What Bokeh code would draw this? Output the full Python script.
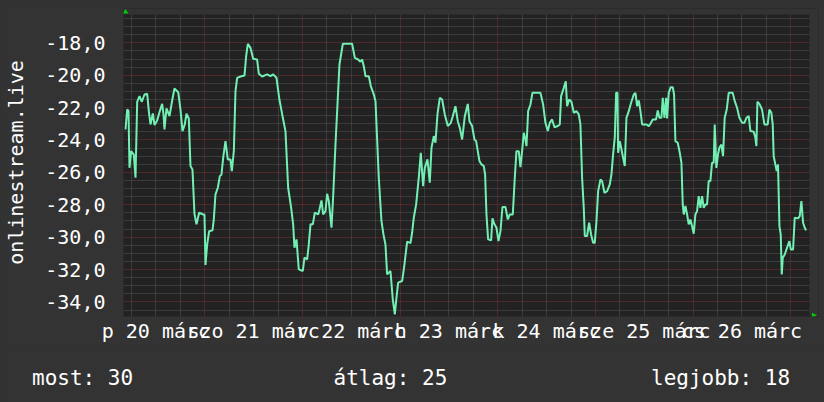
from bokeh.plotting import figure
from bokeh.layouts import column
from bokeh.models import (FixedTicker, CustomJSTickFormatter, Grid, Label,
                          PolyAnnotation, Range1d)
from bokeh.embed import file_html
from bokeh.resources import INLINE

# hours since 20 márc 00:00
hours = [4.52, 4.93, 5.26, 5.50, 5.91, 6.56, 6.98, 7.39, 7.96, 8.53, 9.19, 9.85, 10.25, 10.66,
         11.24, 11.65, 12.30, 12.95, 13.53, 13.86, 14.10, 14.59, 15.33, 15.99, 16.56, 17.47,
         18.03, 18.53, 19.09, 19.51, 20.08, 20.49, 20.98, 21.47, 21.97, 22.62, 23.61, 23.93,
         24.18, 24.59, 25.08, 25.90, 26.22, 26.63, 27.21, 27.70, 28.11, 28.52, 29.09, 29.66,
         30.32, 30.65, 31.14, 31.55, 31.96, 32.78, 33.76, 34.17, 34.58, 35.23, 35.89, 36.87,
         37.28, 38.10, 39.33, 40.15, 40.80, 41.62, 42.28, 43.18, 43.83, 44.49, 45.23, 45.72,
         46.04, 46.54, 47.10, 48.09, 48.50, 49.16, 49.56, 49.98, 50.55, 51.04, 51.86, 52.19,
         52.68, 53.09, 53.66, 54.07, 54.48, 55.14, 55.55, 56.12, 56.61, 57.10, 57.92, 60.21,
         60.87, 61.69, 62.26, 62.67, 63.08, 63.49, 64.31, 64.80, 65.54, 65.95, 66.76, 67.42,
         67.91, 68.40, 68.81, 69.63, 70.20, 70.70, 71.02, 71.52, 72.50, 73.07, 73.73, 74.55,
         74.95, 75.36, 75.94, 76.59, 77.08, 77.66, 78.07, 78.72, 79.29, 79.71, 80.28, 80.69,
         81.18, 81.75, 82.33, 82.98, 83.72, 84.46, 84.95, 85.60, 86.17, 86.67, 87.24, 87.90,
         88.63, 89.04, 89.70, 90.27, 90.68, 91.09, 91.50, 91.99, 92.56, 92.89, 93.22, 93.63,
         94.37, 94.69, 95.18, 95.68, 96.17, 96.66, 97.15, 97.89, 98.46, 98.95, 99.69, 100.18,
         100.59, 101.16, 101.57, 101.98, 102.39, 102.80, 103.05, 103.46, 104.03, 104.52,
         106.49, 107.14, 107.71, 108.29, 108.78, 109.35, 109.93, 110.74, 111.24, 111.56,
         112.22, 112.71, 113.04, 113.53, 114.10, 114.68, 115.33, 115.90, 116.31, 116.72,
         117.13, 117.38, 117.95, 118.44, 118.93, 119.42, 119.83, 120.25, 120.66, 121.23,
         121.64, 122.21, 122.87, 123.52, 123.93, 124.34, 124.75, 125.08, 125.41, 125.57,
         125.98, 126.31, 126.80, 127.21, 127.62, 128.19, 128.76, 129.42, 129.83, 130.24,
         130.65, 131.06, 131.47, 132.53, 133.10, 133.51, 134.08, 134.90, 135.31, 135.72,
         136.21, 136.54, 136.95, 137.36, 137.60, 138.01, 138.50, 139.00, 139.32, 139.65,
         140.22, 140.72, 141.13, 141.45, 141.70, 142.11, 142.52, 142.92, 143.33, 143.74,
         144.15, 144.56, 144.97, 145.38, 145.79, 146.20, 146.61, 147.02, 147.43, 147.83,
         148.24, 148.65, 149.06, 149.31, 149.71, 150.12, 150.45, 150.94, 151.35, 151.76,
         152.26, 152.75, 153.73, 154.23, 154.80, 155.37, 156.03, 156.60, 157.09, 157.66,
         158.08, 158.89, 159.30, 159.55, 159.80, 160.29, 160.94, 161.52, 162.33, 162.74,
         163.23, 163.56, 163.80, 164.21, 164.54, 164.86, 165.21, 165.53, 165.78, 166.03,
         166.52, 167.09, 167.66, 167.99, 168.56, 168.97, 169.79, 170.20, 170.61, 171.02,
         171.43, 171.76]

temps = [-23.35, -22.12, -22.20, -25.72, -24.69, -24.90, -26.33, -21.64, -21.29, -21.64, -21.19,
         -21.15, -22.22, -23.04, -22.36, -23.08, -22.79, -22.22, -21.77, -22.42, -23.35, -22.05,
         -22.53, -21.56, -20.82, -21.05, -22.12, -23.45, -23.04, -22.38, -22.67, -25.61, -25.82,
         -28.56, -29.21, -28.49, -28.60, -28.60, -31.72, -30.45, -29.63, -29.58, -28.91, -27.36,
         -26.95, -26.23, -26.13, -25.10, -24.07, -25.20, -25.20, -25.92, -24.69, -20.98, -20.16,
         -20.08, -20.02, -18.82, -18.06, -18.31, -18.99, -19.03, -19.91, -20.08, -19.95, -20.06,
         -19.95, -20.16, -21.40, -22.63, -23.45, -26.95, -28.19, -29.21, -30.65, -30.14, -31.99,
         -32.09, -31.27, -31.37, -30.45, -29.21, -29.21, -28.49, -28.60, -28.29, -27.73, -28.60,
         -28.39, -27.32, -27.77, -29.42, -27.47, -24.28, -21.81, -19.34, -18.06, -18.06, -18.93,
         -19.03, -19.17, -19.03, -19.44, -20.06, -20.06, -20.67, -21.19, -21.60, -26.33, -29.01,
         -29.83, -30.45, -32.30, -32.09, -33.84, -34.77, -33.95, -32.81, -32.71, -31.68, -30.28,
         -30.37, -29.73, -28.80, -27.98, -26.33, -24.79, -26.85, -25.72, -25.20, -26.64, -24.48,
         -23.76, -24.17, -22.42, -21.40, -21.50, -22.42, -23.14, -22.94, -22.53, -21.91, -22.84,
         -23.25, -23.97, -22.53, -21.77, -22.84, -23.14, -23.97, -24.07, -24.69, -25.30, -25.51,
         -25.61, -26.13, -28.60, -30.14, -30.20, -28.84, -29.21, -29.42, -30.24, -29.63, -28.14,
         -28.14, -28.91, -28.60, -28.60, -26.33, -24.69, -24.69, -25.67, -24.69, -23.56, -23.97,
         -24.38, -22.22, -21.81, -21.09, -21.09, -21.81, -22.94, -23.45, -22.94, -22.73, -23.21,
         -23.14, -23.04, -21.29, -20.78, -20.37, -21.91, -21.50, -21.64, -22.32, -22.22, -22.42,
         -23.04, -26.33, -28.19, -29.93, -29.93, -29.11, -29.83, -30.35, -30.35, -29.01, -27.16,
         -26.44, -26.54, -27.26, -27.16, -26.74, -26.13, -24.89, -23.86, -21.09, -21.09, -24.79,
         -24.07, -24.48, -25.10, -25.61, -22.63, -22.22, -21.70, -21.19, -21.09, -21.91, -21.56,
         -22.22, -23.04, -23.04, -23.14, -23.00, -22.73, -22.73, -22.18, -22.63, -22.63, -21.40,
         -22.63, -21.40, -22.67, -21.09, -20.74, -20.74, -21.19, -24.07, -24.17, -24.79, -25.41,
         -27.98, -28.60, -28.08, -28.60, -29.21, -28.91, -29.32, -29.79, -28.60, -28.39, -27.47,
         -28.19, -27.47, -28.19, -27.98, -27.98, -26.54, -26.54, -25.41, -25.41, -23.04, -25.72,
         -24.89, -24.48, -24.28, -25.00, -22.63, -22.12, -21.09, -21.09, -21.60, -22.01, -22.63,
         -22.94, -22.94, -22.63, -22.53, -23.45, -23.49, -23.86, -24.38, -21.64, -21.77, -22.12,
         -23.04, -23.04, -22.12, -22.32, -23.04, -25.00, -25.51, -25.92, -25.51, -29.32, -29.83,
         -32.30, -31.27, -31.07, -30.65, -30.24, -30.76, -30.76, -28.80, -28.84, -28.70, -27.77,
         -29.11, -29.42, -29.58]

day_label_hours = [12, 36, 60, 84, 108, 132, 156]
day_labels = ["p 20 márc", "szo 21 márc", "v 22 márc", "h 23 márc",
              "k 24 márc", "sze 25 márc", "cs 26 márc"]
y_ticks = [-34, -32, -30, -28, -26, -24, -22, -20, -18]
y_title = "onlinestream.live"
legend_texts = ["most: 30", "átlag: 25", "legjobb: 18"]

# extent of the graph area (data units)
X0, X1 = 4.03, 172.58
Y0, Y1 = -34.9, -16.25
# frame extends slightly beyond the graph area to hold the axis arrows
XF1, YF1 = 174.81, -15.88

FONT = "DejaVu Sans Mono"
BACK = "#333333"
CANVAS = "#222222"
GRID_C = "#555555"
MGRID_C = "#7a3030"
LINE_C = "#72F0B4"
ARROW_C = "#00cc00"

p = figure(width=824, height=350, output_backend="svg", toolbar_location=None, title=None,
           x_range=Range1d(X0, XF1), y_range=Range1d(Y0, YF1),
           min_border_left=123, min_border_right=6, min_border_top=8,
           min_border_bottom=34)
p.frame_align = False
p.background_fill_color = CANVAS
p.border_fill_color = BACK
p.outline_line_color = None
p.xgrid.visible = False
p.ygrid.visible = False

# grids
minor_v = [h for h in range(0, 180, 6) if h % 24 != 0]
major_v = [h for h in range(0, 180, 24)]
minor_h = [-35 + 0.5 * k for k in range(0, 40) if (-35 + 0.5 * k) % 2 != 0]
major_h = list(range(-36, -14, 2))
for dim, ticks, col in [(0, minor_v, GRID_C), (1, minor_h, GRID_C),
                        (0, major_v, MGRID_C), (1, major_h, MGRID_C)]:
    p.add_layout(Grid(dimension=dim, ticker=FixedTicker(ticks=ticks),
                      grid_line_color=col, grid_line_dash="1 1", grid_line_width=1))

# strips outside the graph canvas (room for the arrows) painted in the page colour
p.quad(left=[X0, X1], right=[XF1, XF1], bottom=[Y1, Y0], top=[YF1, YF1],
       fill_color=BACK, fill_alpha=1, line_color=None)

p.line(hours, temps, line_color=LINE_C, line_width=2)

# x axis
xa = p.xaxis[0]
xa.ticker = FixedTicker(ticks=day_label_hours)
xa.formatter = CustomJSTickFormatter(args=dict(labels=day_labels, hrs=day_label_hours),
                                     code="const i = hrs.indexOf(tick); return i >= 0 ? labels[i] : '';")
xa.axis_line_color = None
xa.major_tick_line_color = None
xa.minor_tick_line_color = None
xa.major_label_text_font = FONT
xa.major_label_text_font_size = "20px"
xa.major_label_text_color = "#ffffff"
xa.major_label_standoff = -4

# y axis
ya = p.yaxis[0]
ya.ticker = FixedTicker(ticks=y_ticks)
ya.formatter = CustomJSTickFormatter(code="return tick.toFixed(1).replace('.', ',');")
ya.axis_line_color = None
ya.major_tick_line_color = None
ya.minor_tick_line_color = None
ya.major_label_text_font = FONT
ya.major_label_text_font_size = "20px"
ya.major_label_text_color = "#ffffff"
ya.major_label_standoff = 12
ya.axis_label = y_title
ya.axis_label_text_font = FONT
ya.axis_label_text_font_size = "20px"
ya.axis_label_text_font_style = "normal"
ya.axis_label_text_color = "#ffffff"
ya.axis_label_standoff = 14

# axis arrows (screen units, relative to the plot frame)
p.add_layout(PolyAnnotation(xs=[-1, 2, 5], ys=[303, 307.5, 303], xs_units="screen",
                            ys_units="screen", fill_color=ARROW_C, fill_alpha=1,
                            line_color=None))
p.add_layout(PolyAnnotation(xs=[688.5, 693.5, 688.5], ys=[-1, 1.3, 3.7], xs_units="screen",
                            ys_units="screen", fill_color=ARROW_C, fill_alpha=1,
                            line_color=None))

# legend strip
leg = figure(width=824, height=52, output_backend="svg", toolbar_location=None, title=None,
             x_axis_type=None, y_axis_type=None, min_border=0,
             x_range=Range1d(0, 824), y_range=Range1d(0, 52))
leg.frame_align = False
leg.background_fill_color = BACK
leg.border_fill_color = BACK
leg.outline_line_color = None
for txt, xpos in zip(legend_texts, [31.5, 333, 650.5]):
    leg.add_layout(Label(x=xpos, y=25, x_units="screen", y_units="screen", text=txt,
                         text_font=FONT, text_font_size="21px", text_color="#ffffff",
                         text_baseline="alphabetic"))

layout = column(p, leg, spacing=0, styles={"background-color": BACK})
open("out.html", "w").write(file_html(layout, INLINE))
